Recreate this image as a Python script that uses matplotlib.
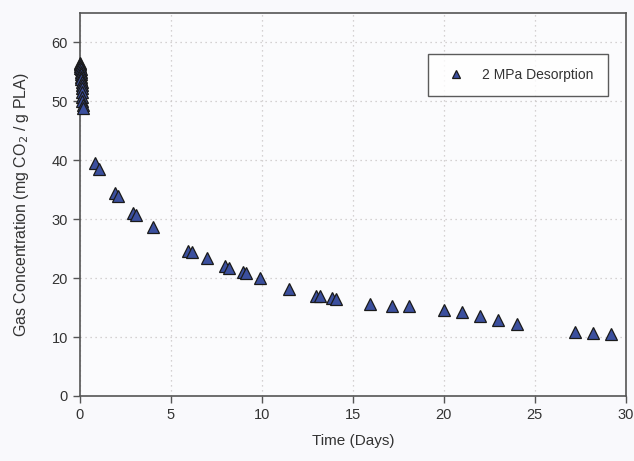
import matplotlib
matplotlib.use("Agg")
import matplotlib.pyplot as plt

# Early (t ~ 0) rapid desorption cluster
t_early = [0.0, 0.01, 0.02, 0.03, 0.04, 0.05, 0.06, 0.07, 0.08, 0.09, 0.1, 0.11,
           0.12, 0.13, 0.14, 0.15, 0.16]
c_early = [56.5, 56.3, 56.0, 55.7, 55.4, 55.0, 54.6, 54.2, 53.8, 53.3, 52.8, 52.2,
           51.5, 50.8, 50.0, 49.3, 48.8]

# Later measurements
t_late = [0.82, 1.06, 1.92, 2.09, 2.9, 3.08, 4.01, 5.92, 6.14, 6.98, 8.0, 8.19,
          8.94, 9.12, 9.89, 11.48, 13.0, 13.19, 13.85, 14.1, 15.93, 17.14, 18.08,
          20.0, 20.99, 22.0, 23.0, 24.0, 27.2, 28.2, 29.2]
c_late = [39.5, 38.5, 34.4, 33.9, 31.0, 30.7, 28.6, 24.6, 24.4, 23.4, 22.0, 21.8,
          21.1, 20.9, 20.0, 18.1, 17.0, 16.9, 16.6, 16.4, 15.6, 15.3, 15.2,
          14.6, 14.2, 13.5, 12.9, 12.2, 10.9, 10.7, 10.6]

x_ticks = [0, 5, 10, 15, 20, 25, 30]
y_ticks = [0, 10, 20, 30, 40, 50, 60]

plt.rcParams['font.family'] = ['Liberation Sans', 'DejaVu Sans']

fig = plt.figure(figsize=(6.34, 4.61), dpi=100)
fig.patch.set_facecolor('#f9f9fc')
ax = fig.add_axes([0.126, 0.141, 0.861, 0.831])
ax.set_facecolor('#fbfbfd')

t_all = t_early + t_late
c_all = c_early + c_late
ax.plot(t_all, c_all, linestyle='none', marker='^', markersize=8.5,
        markerfacecolor='#3b4f9e', markeredgecolor='#1a1a1a', markeredgewidth=0.9,
        label='2 MPa Desorption', clip_on=False, zorder=3)

ax.set_xlim(0, 30)
ax.set_ylim(0, 65)
ax.set_xticks(x_ticks)
ax.set_yticks(y_ticks)
ax.grid(True, linestyle=(0, (1, 3)), color='#c8c4c4', linewidth=0.9)
ax.set_axisbelow(True)

for s in ax.spines.values():
    s.set_color('#555555')
    s.set_linewidth(1.2)

ax.tick_params(axis='both', direction='out', length=5, width=1, color='#555555',
               labelsize=10.5, labelcolor='#333333')
ax.tick_params(axis='x', pad=4)

ax.set_xlabel('Time (Days)', fontsize=11, color='#333333', labelpad=8)
ax.set_ylabel('Gas Concentration (mg CO$_2$ / g PLA)', fontsize=11.5, color='#333333', labelpad=15)

leg = ax.legend(loc='upper right', bbox_to_anchor=(0.967, 0.893), fontsize=10,
                frameon=True, fancybox=False, borderpad=1.0, handletextpad=0.9,
                markerscale=0.7, borderaxespad=0)
leg.get_frame().set_edgecolor('#333333')
leg.get_frame().set_linewidth(1.0)
leg.get_frame().set_facecolor('white')
for t in leg.get_texts():
    t.set_color('#333333')

fig.savefig('out.png', dpi=100, facecolor=fig.get_facecolor())
